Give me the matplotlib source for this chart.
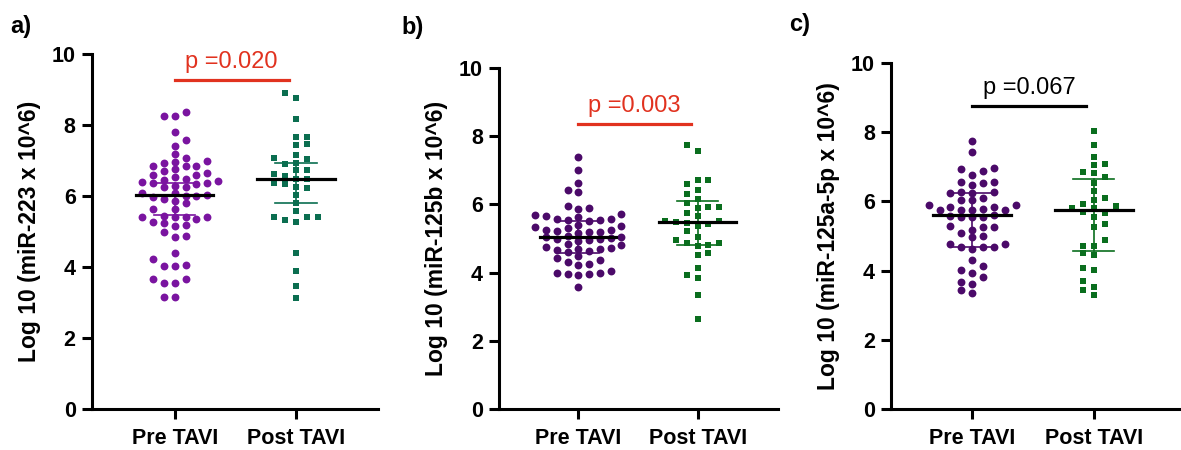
import numpy as np
import matplotlib.pyplot as plt

plt.rcParams['font.family'] = ['Liberation Sans', 'DejaVu Sans']

# data (log10 of copies x 10^6)
groups = ['Pre TAVI', 'Post TAVI']

pre_223 = [8.37, 8.26, 8.26, 7.82, 7.59, 7.43, 7.19,
           7.07, 6.99, 6.97, 6.95, 6.86, 6.86, 6.85,
           6.76, 6.71, 6.65, 6.60, 6.60, 6.55,
           6.48, 6.46, 6.44, 6.41, 6.38, 6.38, 6.35, 6.29, 6.25, 6.25,
           6.08, 6.08, 6.04, 6.02, 6.02, 5.99, 5.92,
           5.87, 5.80, 5.63, 5.63,
           5.45, 5.43, 5.43, 5.43, 5.41, 5.35, 5.27, 5.24, 5.18, 5.15,
           4.99, 4.89, 4.85,
           4.39, 4.23, 4.06, 4.05, 4.04,
           3.67, 3.67, 3.57, 3.56,
           3.17, 3.17]
post_223 = [8.92, 8.76, 8.18, 7.68, 7.66, 7.46, 7.45, 7.16, 7.08, 7.05,
            6.95, 6.92, 6.74, 6.74, 6.63, 6.57, 6.50, 6.49, 6.38, 6.36,
            6.25, 6.23, 6.04, 5.82, 5.59, 5.43, 5.42, 5.42, 5.33, 5.27,
            4.41, 3.90, 3.47, 3.13]

pre_125b = [7.38, 7.02, 6.64, 6.42, 6.37, 5.95, 5.88, 5.86,
            5.72, 5.70, 5.66, 5.64, 5.58, 5.56, 5.55, 5.54, 5.52,
            5.40, 5.36, 5.34, 5.30, 5.26, 5.24, 5.22, 5.20, 5.18, 5.16,
            5.08, 5.05, 5.03, 5.02, 5.00, 4.98, 4.95, 4.92,
            4.85, 4.80, 4.76, 4.72, 4.70, 4.68, 4.66, 4.64, 4.60,
            4.48, 4.42, 4.36, 4.30, 4.26, 4.22,
            4.05, 4.00, 3.98, 3.96, 3.95, 3.92,
            3.57]
post_125b = [7.73, 7.57, 6.72, 6.71, 6.61, 6.42, 6.29, 6.17, 6.03, 5.92,
             5.91, 5.88, 5.75, 5.66, 5.52, 5.52, 5.49, 5.46, 5.42, 5.38,
             5.21, 5.03, 4.97, 4.88, 4.88, 4.81, 4.78, 4.58, 4.51, 4.14,
             3.92, 3.85, 3.35, 2.65]

pre_125a = [7.75, 7.41, 6.95, 6.92, 6.88, 6.76, 6.56, 6.56, 6.54, 6.47,
            6.28, 6.28, 6.25, 6.23, 6.09, 6.04, 6.04, 5.89, 5.89, 5.84,
            5.84, 5.77, 5.75, 5.75, 5.75, 5.75, 5.61, 5.58, 5.56, 5.54,
            5.54, 5.29, 5.25, 5.25, 5.17, 5.09, 5.00, 4.96, 4.77, 4.77,
            4.69, 4.69, 4.69, 4.64, 4.31, 4.13, 4.02, 3.94, 3.83, 3.68,
            3.63, 3.44, 3.35]
post_125a = [8.04, 7.64, 7.29, 7.09, 7.05, 6.85, 6.83, 6.71, 6.52, 6.31,
             6.10, 6.04, 5.92, 5.87, 5.82, 5.80, 5.70, 5.67, 5.54, 5.34,
             5.27, 4.88, 4.71, 4.71, 4.50, 4.45, 4.08, 4.01, 3.70, 3.52,
             3.44, 3.30]

# error bar ends (pre, post) as drawn
err_low = [[5.46, 5.82], [4.57, 4.81], [4.69, 4.58]]
err_high = [[6.37, 6.95], [5.52, 6.10], [6.23, 6.64]]

y_labels = ['Log 10 (miR-223 x 10^6)', 'Log 10 (miR-125b x 10^6)',
            'Log 10 (miR-125a-5p x 10^6)']
p_texts = ['p =0.020', 'p =0.003', 'p =0.067']
p_colors = ['#e1321f', '#e1321f', 'black']
bracket_y = [9.27, 8.35, 8.75]
panel_tags = ['a)', 'b)', 'c)']

panels = [(pre_223, post_223), (pre_125b, post_125b), (pre_125a, post_125a)]
pre_colors = ['#7a14a0', '#4b0a69', '#4b0a69']
post_colors = ['#0b6e50', '#0a6e1e', '#0a6e1e']

# axes boxes in figure fraction, and x-limits
boxes = [[0.0776, 0.0904, 0.2422, 0.7889],
         [0.4225, 0.0904, 0.2362, 0.7591],
         [0.7544, 0.0904, 0.2447, 0.7702]]
xlims = [(-0.684, 1.673), (-0.664, 1.672), (-0.67, 1.71)]
tag_pos = [(0.009, 0.966), (0.340, 0.964), (0.668, 0.970)]


def swarm_x(ax, values, center, step, min_px):
    # greedy column placement, similar to a prism scatter plot
    values = np.asarray(values)
    order = np.argsort(values)
    placed = []
    xs = np.zeros(len(values))
    for k, i in enumerate(order):
        cands = [0]
        for j in range(1, 15):
            cands += [j, -j] if k % 2 == 0 else [-j, j]
        for c in cands:
            x = center + c * step
            px, py = ax.transData.transform((x, values[i]))
            if all(np.hypot(px - qx, py - qy) >= min_px for qx, qy in placed):
                break
        placed.append((px, py))
        xs[i] = x
    return xs


fig = plt.figure(figsize=(11.81, 4.5), dpi=100)

for n, (pre, post) in enumerate(panels):
    ax = fig.add_axes(boxes[n])
    ax.set_xlim(*xlims[n])
    ax.set_ylim(0, 10)

    for g, (vals, col, mk, sz) in enumerate([(pre, pre_colors[n], 'o', 32),
                                             (post, post_colors[n], 's', 24)]):
        xs = swarm_x(ax, vals, g, 0.09, 7.2)
        ax.scatter(xs, vals, s=sz, marker=mk, color=col, linewidths=0,
                   zorder=3, clip_on=False)
        # error bar and median
        lo, hi = err_low[n][g], err_high[n][g]
        ax.plot([g, g], [lo, hi], color=col, lw=1.2, zorder=4)
        ax.plot([g - 0.17, g + 0.17], [lo, lo], color=col, lw=1.2, zorder=4)
        ax.plot([g - 0.17, g + 0.17], [hi, hi], color=col, lw=1.2, zorder=4)
        med = np.median(vals)
        ax.plot([g - 0.32, g + 0.32], [med, med], color='black', lw=2.3,
                zorder=5)

    # significance bracket
    ax.plot([0.0, 0.94], [bracket_y[n], bracket_y[n]], color=p_colors[n],
            lw=2.3, clip_on=False)
    ax.text(0.47, bracket_y[n] + 0.2, p_texts[n], color=p_colors[n],
            fontsize=17, ha='center', va='bottom')

    ax.spines['top'].set_visible(False)
    ax.spines['right'].set_visible(False)
    for s in ['left', 'bottom']:
        ax.spines[s].set_linewidth(2.2)
    ax.set_yticks([0, 2, 4, 6, 8, 10])
    ax.set_xticks([0, 1])
    ax.set_xticklabels(groups, fontweight='bold', fontsize=15.5)
    for lab in ax.get_yticklabels():
        lab.set_fontweight('bold')
        lab.set_fontsize(15.5)
    ax.tick_params(axis='both', width=2.2, length=7.5, pad=4)
    ax.tick_params(axis='x', pad=6)
    ax.set_ylabel(y_labels[n], fontweight='bold', fontsize=16.5, labelpad=8)

    fig.text(tag_pos[n][0], tag_pos[n][1], panel_tags[n], fontweight='bold',
             fontsize=17, va='top')

fig.savefig('out.png', dpi=100)
